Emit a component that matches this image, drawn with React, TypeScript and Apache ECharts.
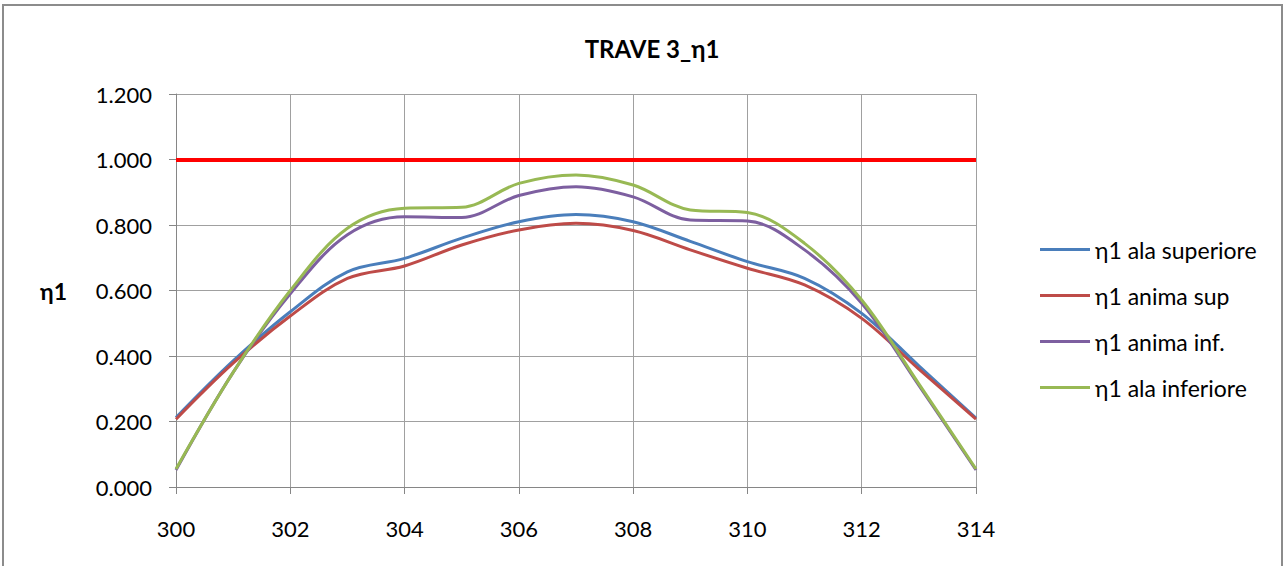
import React, { useEffect, useRef } from "react";
import * as echarts from "echarts";

const xValues = [300, 301, 302, 303, 304, 305, 306, 307, 308, 309, 310, 311, 312, 313, 314];
const alaSuperiore = [0.212, 0.385, 0.535, 0.657, 0.698, 0.76, 0.81, 0.832, 0.81, 0.75, 0.688, 0.637, 0.53, 0.37, 0.21];
const animaSup = [0.207, 0.378, 0.522, 0.637, 0.675, 0.739, 0.785, 0.805, 0.783, 0.724, 0.668, 0.617, 0.515, 0.36, 0.207];
const animaInf = [0.052, 0.35, 0.59, 0.77, 0.825, 0.823, 0.89, 0.917, 0.886, 0.815, 0.812, 0.724, 0.561, 0.31, 0.052];
const alaInferiore = [0.055, 0.35, 0.6, 0.79, 0.851, 0.854, 0.927, 0.953, 0.922, 0.846, 0.838, 0.744, 0.571, 0.315, 0.055];
const seriesNames = ["η1 ala superiore", "η1 anima sup", "η1 anima inf.", "η1 ala inferiore"];
const seriesColors = ["#4A7EBB", "#BE4B48", "#7D5FA0", "#98B954"];
const limitValue = 1.0;

const FONT = "Lato, 'Open Sans', sans-serif";

export default function App() {
  const ref = useRef<HTMLDivElement>(null);
  useEffect(() => {
    if (!ref.current) return;
    const chart = echarts.init(ref.current, undefined, { renderer: "svg" });
    const all = [alaSuperiore, animaSup, animaInf, alaInferiore];
    const series: any[] = all.map((vals, i) => ({
      name: seriesNames[i],
      type: "line",
      smooth: 0.35,
      symbol: "none",
      data: xValues.map((x, j) => [x, vals[j]]),
      lineStyle: { width: 3, color: seriesColors[i] },
      itemStyle: { color: seriesColors[i] },
      z: 3,
    }));
    series[0].markLine = {
      silent: true,
      symbol: "none",
      label: { show: false },
      lineStyle: { color: "#FF0000", width: 4, type: "solid" },
      data: [{ yAxis: limitValue }],
      z: 5,
    };
    chart.setOption({
      animation: false,
      backgroundColor: "#fff",
      textStyle: { fontFamily: FONT },
      title: {
        text: "TRAVE 3_η1",
        left: 647,
        top: 31,
        textAlign: "center",
        textStyle: { fontFamily: FONT, fontSize: 24, fontWeight: "bold", color: "#000" },
      },
      graphic: [
        {
          type: "rect",
          shape: { x: 3, y: 5, width: 1279, height: 580 },
          style: { fill: "none", stroke: "#8C8C8C", lineWidth: 2 },
          silent: true,
        },
      ],
      legend: {
        orient: "vertical",
        left: 1035,
        top: 233,
        itemWidth: 50,
        itemHeight: 3,
        itemGap: 23,
        icon: "rect",
        textStyle: { fontFamily: FONT, fontSize: 23, color: "#000" },
        data: seriesNames,
      },
      grid: { left: 176, right: 311, top: 94, bottom: 79, containLabel: false },
      xAxis: {
        type: "value",
        min: 300,
        max: 314,
        interval: 2,
        axisLine: { show: true, lineStyle: { color: "#868686", width: 1 } },
        axisTick: { show: true, inside: false, length: 7, lineStyle: { color: "#868686" } },
        axisLabel: { margin: 30, fontSize: 22, color: "#000", fontFamily: FONT },
        splitLine: { show: true, lineStyle: { color: "#A0A0A0", width: 1 } },
      },
      yAxis: {
        type: "value",
        min: 0,
        max: 1.2,
        interval: 0.2,
        name: "η1",
        nameLocation: "middle",
        nameRotate: 0,
        nameGap: 109,
        nameTextStyle: { fontSize: 23, fontWeight: "bold", color: "#000", fontFamily: FONT },
        axisLine: { show: true, lineStyle: { color: "#868686", width: 1 } },
        axisTick: { show: true, inside: false, length: 7, lineStyle: { color: "#868686" } },
        axisLabel: {
          margin: 24,
          fontSize: 22,
          color: "#000",
          fontFamily: FONT,
          formatter: (v: number) => v.toFixed(3),
        },
        splitLine: { show: true, lineStyle: { color: "#A0A0A0", width: 1 } },
      },
      series,
    });
    return () => chart.dispose();
  }, []);
  return (
    <div
      ref={ref}
      style={{ position: "fixed", left: 0, top: 0, width: 1287, height: 566 }}
    />
  );
}
